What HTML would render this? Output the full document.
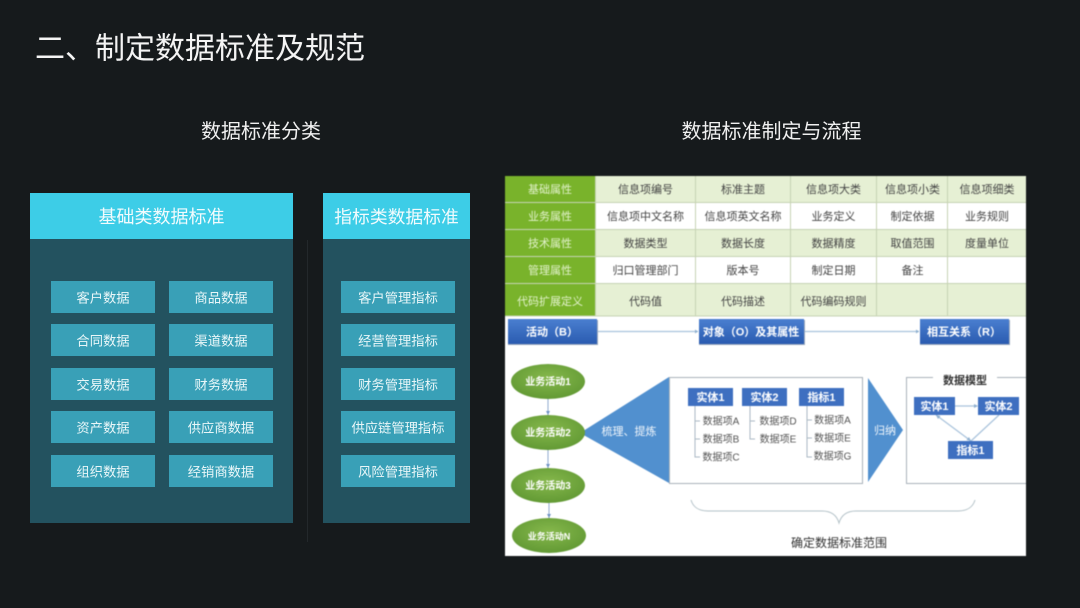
<!DOCTYPE html>
<html lang="zh-CN">
<head>
<meta charset="utf-8">
<title>数据标准</title>
<style>
html,body{margin:0;padding:0;width:1080px;height:608px;overflow:hidden;background:#161a1c}
svg{display:block}
text{font-family:"Liberation Sans","Noto Sans CJK SC",sans-serif;text-anchor:middle;dominant-baseline:central;transform:translateY(1px)}
.btn{fill:#39a0b7}
.bt{fill:#e8f6f8;font-size:13.3px}
.h{fill:#f2fbfd;font-size:18px}
.c{fill:#444;font-size:11px}
.g{fill:#e2f2cb;font-size:11px}
.w{fill:#fff;font-weight:700}
.d{fill:#555;font-size:10px}
.ln{stroke:#aab8c3;stroke-width:1;fill:none}
.ar{stroke:#a9c3dc;stroke-width:1.2;fill:none}
</style>
</head>
<body>
<svg width="1080" height="608" viewBox="0 0 1080 608" xmlns="http://www.w3.org/2000/svg">
<defs>
<linearGradient id="bl" x1="0" y1="0" x2="0" y2="1"><stop offset="0" stop-color="#4a7fd0"/><stop offset="1" stop-color="#2a5bb0"/></linearGradient>
<radialGradient id="gr" cx=".5" cy=".4" r=".65"><stop offset="0" stop-color="#86b84c"/><stop offset="1" stop-color="#5f9732"/></radialGradient>
</defs>
<rect width="1080" height="608" fill="#161a1c"/>
<text x="200" y="48" fill="#f4f4f4" font-size="30">二、制定数据标准及规范</text>
<text x="261" y="131" fill="#f0f0f0" font-size="20">数据标准分类</text>
<text x="771.500" y="131" fill="#f0f0f0" font-size="20">数据标准制定与流程</text>

<line x1="307.500" y1="240" x2="307.500" y2="542" stroke="#23282b"/>

<rect x="30" y="193" width="263" height="330" fill="#23525f"/>
<rect x="30" y="193" width="263" height="46" fill="#3dcde7"/>
<text class="h" x="161.500" y="216">基础类数据标准</text>
<rect x="323" y="193" width="147" height="330" fill="#23525f"/>
<rect x="323" y="193" width="147" height="46" fill="#3dcde7"/>
<text class="h" x="396.500" y="216" style="font-size:17.800px">指标类数据标准</text>

<g>
<rect class="btn" x="51" y="281" width="104" height="32"/><text class="bt" x="103" y="297">客户数据</text>
<rect class="btn" x="169" y="281" width="104" height="32"/><text class="bt" x="221" y="297">商品数据</text>
<rect class="btn" x="51" y="324" width="104" height="32"/><text class="bt" x="103" y="340">合同数据</text>
<rect class="btn" x="169" y="324" width="104" height="32"/><text class="bt" x="221" y="340">渠道数据</text>
<rect class="btn" x="51" y="368" width="104" height="32"/><text class="bt" x="103" y="384">交易数据</text>
<rect class="btn" x="169" y="368" width="104" height="32"/><text class="bt" x="221" y="384">财务数据</text>
<rect class="btn" x="51" y="411" width="104" height="32"/><text class="bt" x="103" y="427">资产数据</text>
<rect class="btn" x="169" y="411" width="104" height="32"/><text class="bt" x="221" y="427">供应商数据</text>
<rect class="btn" x="51" y="455" width="104" height="32"/><text class="bt" x="103" y="471">组织数据</text>
<rect class="btn" x="169" y="455" width="104" height="32"/><text class="bt" x="221" y="471">经销商数据</text>
<rect class="btn" x="341" y="281" width="114" height="32"/><text class="bt" x="398" y="297">客户管理指标</text>
<rect class="btn" x="341" y="324" width="114" height="32"/><text class="bt" x="398" y="340">经营管理指标</text>
<rect class="btn" x="341" y="368" width="114" height="32"/><text class="bt" x="398" y="384">财务管理指标</text>
<rect class="btn" x="341" y="411" width="114" height="32"/><text class="bt" x="398" y="427">供应链管理指标</text>
<rect class="btn" x="341" y="455" width="114" height="32"/><text class="bt" x="398" y="471">风险管理指标</text>
</g>

<g style="filter:blur(.4px)">
<rect x="505" y="176" width="521" height="380" fill="#fff"/>
<rect x="505" y="176" width="91" height="140" fill="#79b32b"/>
<rect x="596" y="176" width="430" height="26.500" fill="#e6f0d4"/>
<rect x="596" y="229" width="430" height="27" fill="#e6f0d4"/>
<rect x="596" y="283" width="430" height="33" fill="#e6f0d4"/>
<g stroke="#c6d3b4" stroke-width="1">
<line x1="505" y1="202.500" x2="1026" y2="202.500"/>
<line x1="505" y1="229.500" x2="1026" y2="229.500"/>
<line x1="505" y1="256.500" x2="1026" y2="256.500"/>
<line x1="505" y1="283.500" x2="1026" y2="283.500"/>
<line x1="505" y1="316" x2="1026" y2="316"/>
<line x1="595.500" y1="176" x2="595.500" y2="316"/>
<line x1="695.500" y1="176" x2="695.500" y2="316"/>
<line x1="790.500" y1="176" x2="790.500" y2="316"/>
<line x1="876.500" y1="176" x2="876.500" y2="316"/>
<line x1="947.500" y1="176" x2="947.500" y2="316"/>
</g>
<text class="g" x="550" y="189">基础属性</text>
<text class="g" x="550" y="216">业务属性</text>
<text class="g" x="550" y="243">技术属性</text>
<text class="g" x="550" y="270">管理属性</text>
<text class="g" x="550" y="301">代码扩展定义</text>
<text class="c" x="645.500" y="189">信息项编号</text>
<text class="c" x="743" y="189">标准主题</text>
<text class="c" x="833.500" y="189">信息项大类</text>
<text class="c" x="912.500" y="189">信息项小类</text>
<text class="c" x="987" y="189">信息项细类</text>
<text class="c" x="645.500" y="216">信息项中文名称</text>
<text class="c" x="743" y="216">信息项英文名称</text>
<text class="c" x="833.500" y="216">业务定义</text>
<text class="c" x="912.500" y="216">制定依据</text>
<text class="c" x="987" y="216">业务规则</text>
<text class="c" x="645.500" y="243">数据类型</text>
<text class="c" x="743" y="243">数据长度</text>
<text class="c" x="833.500" y="243">数据精度</text>
<text class="c" x="912.500" y="243">取值范围</text>
<text class="c" x="987" y="243">度量单位</text>
<text class="c" x="645.500" y="270">归口管理部门</text>
<text class="c" x="743" y="270">版本号</text>
<text class="c" x="833.500" y="270">制定日期</text>
<text class="c" x="912.500" y="270">备注</text>
<text class="c" x="645.500" y="301">代码值</text>
<text class="c" x="743" y="301">代码描述</text>
<text class="c" x="833.500" y="301">代码编码规则</text>

<line class="ar" x1="597" y1="331.500" x2="698" y2="331.500"/>
<path d="M695 329.500l3 2-3 2z" fill="#8fb0d0"/>
<line class="ar" x1="804" y1="331.500" x2="919" y2="331.500"/>
<path d="M916 329.500l3 2-3 2z" fill="#8fb0d0"/>
<rect x="508" y="320" width="90" height="25" fill="#9aa8bd"/>
<rect x="699" y="320" width="106" height="25" fill="#9aa8bd"/>
<rect x="920" y="320" width="90" height="25" fill="#9aa8bd"/>
<rect x="508" y="319" width="89" height="25" fill="url(#bl)"/>
<rect x="699" y="319" width="105" height="25" fill="url(#bl)"/>
<rect x="920" y="319" width="89" height="25" fill="url(#bl)"/>
<text class="w" x="552" y="331.500" font-size="11">活动（B）</text>
<text class="w" x="751" y="331.500" font-size="11">对象（O）及其属性</text>
<text class="w" x="964" y="331.500" font-size="11">相互关系（R）</text>

<g stroke="#8fa9cf" stroke-width="1">
<line x1="548" y1="399" x2="548" y2="415"/>
<line x1="548" y1="450" x2="548" y2="468"/>
<line x1="549" y1="503" x2="549" y2="518"/>
</g>
<path d="M546 411l2 4 2-4zM546 464l2 4 2-4zM547 514l2 4 2-4z" fill="#6f93c4"/>
<rect x="669.500" y="377.500" width="193" height="106" fill="#fff" stroke="#a9b2bb"/>
<path d="M580 433L669 377V483Z" fill="#5190cf"/>
<ellipse cx="548" cy="381.500" rx="37" ry="17.500" fill="url(#gr)"/>
<ellipse cx="548" cy="432.500" rx="37" ry="17.500" fill="url(#gr)"/>
<ellipse cx="548" cy="485.500" rx="37" ry="17.500" fill="url(#gr)"/>
<ellipse cx="549" cy="535.500" rx="37" ry="17.500" fill="url(#gr)"/>
<text class="w" x="548" y="381.500" font-size="10">业务活动1</text>
<text class="w" x="548" y="432.500" font-size="10">业务活动2</text>
<text class="w" x="548" y="485.500" font-size="10">业务活动3</text>
<text class="w" x="549" y="535.500" font-size="9">业务活动N</text>
<text x="629" y="431" fill="#f2f7fc" font-size="11">梳理、提炼</text>

<rect x="688" y="388" width="45" height="18" fill="#3e6fc0"/>
<rect x="742" y="388" width="45" height="18" fill="#3e6fc0"/>
<rect x="799" y="388" width="45" height="18" fill="#3e6fc0"/>
<text class="w" x="710.500" y="397" font-size="11">实体1</text>
<text class="w" x="764.500" y="397" font-size="11">实体2</text>
<text class="w" x="821.500" y="397" font-size="11">指标1</text>
<path class="ln" d="M695 406V457H700M695 421H700M695 439H700"/>
<path class="ln" d="M750 406V439H755M750 421H755"/>
<path class="ln" d="M807 406V457H812M807 420H812M807 438H812"/>
<text class="d" x="721" y="421">数据项A</text>
<text class="d" x="721" y="439">数据项B</text>
<text class="d" x="721" y="457">数据项C</text>
<text class="d" x="778" y="421">数据项D</text>
<text class="d" x="778" y="439">数据项E</text>
<text class="d" x="832.500" y="420">数据项A</text>
<text class="d" x="832.500" y="438">数据项E</text>
<text class="d" x="832.500" y="456">数据项G</text>

<path d="M868 378L903 430L868 482Z" fill="#5190cf"/>
<text x="885" y="430" fill="#f2f7fc" font-size="11">归纳</text>

<path d="M933 377.500H906.500V483.500H1026M997 377.500H1026" fill="none" stroke="#a9b2bb"/>
<text x="965" y="380" fill="#333" font-size="11" font-weight="700">数据模型</text>
<path class="ar" d="M955 406H977M936 415L971 441M999 415L971 441"/>
<path d="M974 404l4 2-4 2zM936 415l4.500 1-2.500 3zM971 441l-4.500-1 2.500-3z" fill="#8fb0d0"/>
<rect x="914" y="397" width="41" height="18" fill="#3e6fc0"/>
<rect x="978" y="397" width="41" height="18" fill="#3e6fc0"/>
<rect x="948" y="441" width="45" height="18" fill="#3e6fc0"/>
<text class="w" x="934.500" y="406" font-size="11">实体1</text>
<text class="w" x="998.500" y="406" font-size="11">实体2</text>
<text class="w" x="970.500" y="450" font-size="11">指标1</text>

<path d="M691 500C693 507 699 511 708 511H822C832 511 837 516 839 523C841 516 846 511 856 511H958C967 511 973 507 975 500" fill="none" stroke="#b4c2c8"/>
<text x="839" y="542" fill="#333" font-size="12">确定数据标准范围</text>
</g>
</svg>
</body>
</html>
